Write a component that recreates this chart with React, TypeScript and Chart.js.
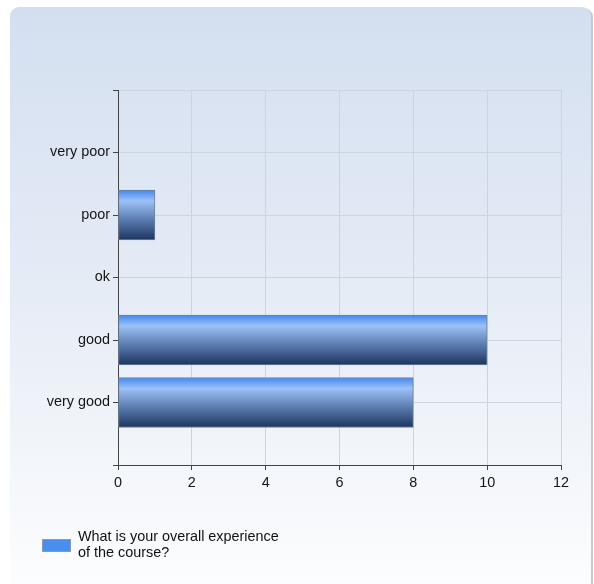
import React, { useEffect, useRef } from "react";
import { Chart, registerables } from "chart.js";

Chart.register(...registerables);

const categories = ["very poor", "poor", "ok", "good", "very good"];
const values = [0, 1, 0, 10, 8];
const seriesLabel = ["What is your overall experience", "of the course?"];
const xTicks = [0, 2, 4, 6, 8, 10, 12];

const W = 594;
const H = 584;
const FONT = "'Liberation Sans', Arial, sans-serif";

const panelPlugin = {
  id: "panel",
  beforeDraw(chart: any) {
    const ctx = chart.ctx;
    ctx.save();
    ctx.fillStyle = "#ffffff";
    ctx.fillRect(0, 0, W, H);
    const x0 = 10, y0 = 7, x1 = 591, y1 = 610, r = 9;
    ctx.fillStyle = "#c9c9c9";
    ctx.beginPath();
    ctx.roundRect(x0 + 2, y0 + 1, x1 - x0, y1 - y0, r);
    ctx.fill();
    const g = ctx.createLinearGradient(0, y0, 0, H);
    g.addColorStop(0, "#d3dff0");
    g.addColorStop(0.5, "#e6ecf6");
    g.addColorStop(1, "#fcfdfe");
    ctx.fillStyle = g;
    ctx.beginPath();
    ctx.roundRect(x0, y0, x1 - x0, y1 - y0, r);
    ctx.fill();
    ctx.restore();
  },
  afterDraw(chart: any) {
    const ctx = chart.ctx;
    ctx.save();
    ctx.fillStyle = "#4a8ef0";
    ctx.fillRect(42, 539, 29, 13);
    ctx.strokeStyle = "#8a9ab0";
    ctx.lineWidth = 1;
    ctx.strokeRect(42.5, 539.5, 28, 12);
    ctx.fillStyle = "#111111";
    ctx.font = "14.4px " + FONT;
    ctx.textBaseline = "middle";
    ctx.textAlign = "left";
    seriesLabel.forEach((line, i) => {
      ctx.fillText(line, 78, 537 + i * 16);
    });
    ctx.restore();
  },
};

export default function App() {
  const ref = useRef<HTMLCanvasElement | null>(null);

  useEffect(() => {
    if (!ref.current) return;
    const BAR = 50;
    const chart = new Chart(ref.current, {
      type: "bar",
      data: {
        datasets: [
          {
            label: seriesLabel.join(" "),
            data: categories.map((c, i) => ({ x: values[i], y: i + 1 })),
            barThickness: BAR,
            borderWidth: 1,
            borderColor: "#6f819c",
            borderSkipped: false,
            backgroundColor: (context: any) => {
              const chart = context.chart;
              const ys = chart.scales?.y;
              const p = context.parsed;
              if (!ys || !p || !chart.chartArea) return "#4a8ef0";
              const cy = ys.getPixelForValue(p.y);
              if (!isFinite(cy)) return "#4a8ef0";
              const g = chart.ctx.createLinearGradient(0, cy - BAR / 2, 0, cy + BAR / 2);
              g.addColorStop(0, "#4387ee");
              g.addColorStop(0.22, "#9cc1f6");
              g.addColorStop(0.55, "#6384b8");
              g.addColorStop(1, "#1c355f");
              return g;
            },
          } as any,
        ],
      },
      options: {
        indexAxis: "y",
        animation: false,
        responsive: false,
        devicePixelRatio: 1,
        layout: { padding: { left: 0, top: 90, right: 33, bottom: 0 } },
        plugins: {
          legend: { display: false },
          tooltip: { enabled: false },
        },
        scales: {
          x: {
            type: "linear",
            min: xTicks[0],
            max: xTicks[xTicks.length - 1],
            offset: false,
            afterFit: (s: any) => {
              s.height = 119;
            },
            afterBuildTicks: (s: any) => {
              s.ticks = xTicks.map((v) => ({ value: v }));
            },
            ticks: {
              color: "#151515",
              font: { family: FONT, size: 14.4 },
              padding: 4,
            },
            grid: { color: "#cdd4de", tickColor: "#444444", tickLength: 5, offset: false },
            border: { color: "#444444", width: 1 },
          },
          y: {
            type: "linear",
            reverse: true,
            offset: false,
            min: 0,
            max: categories.length + 1,
            afterFit: (s: any) => {
              s.width = 118;
            },
            afterBuildTicks: (s: any) => {
              const arr = [];
              for (let i = 0; i <= categories.length + 1; i++) arr.push({ value: i });
              s.ticks = arr;
            },
            ticks: {
              color: "#151515",
              font: { family: FONT, size: 14.4 },
              padding: 3,
              callback: (v: any) => categories[Number(v) - 1] ?? "",
            },
            grid: { color: "#cdd4de", tickColor: "#444444", tickLength: 5, offset: false },
            border: { color: "#444444", width: 1 },
          },
        },
      } as any,
      plugins: [panelPlugin],
    });
    return () => chart.destroy();
  }, []);

  return (
    <div style={{ position: "fixed", left: 0, top: 0, width: W, height: H }}>
      <canvas ref={ref} width={W} height={H} style={{ width: W, height: H, display: "block" }} />
    </div>
  );
}
